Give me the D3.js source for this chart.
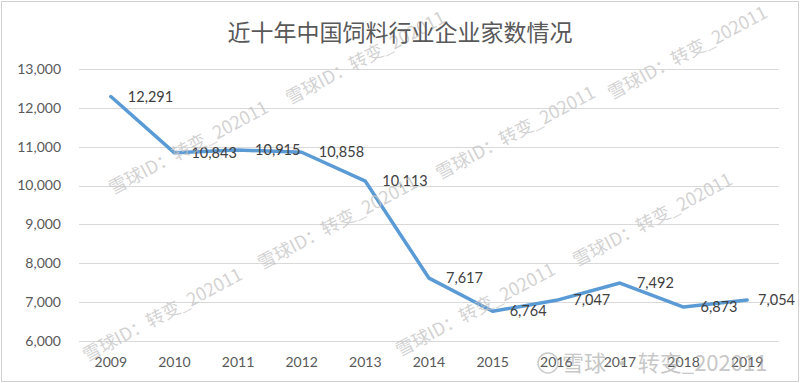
<!DOCTYPE html>
<html>
<head>
<meta charset="utf-8">
<script src="https://cdn.jsdelivr.net/npm/d3@7"></script>
<style>
  body { margin: 0; background: #fff; }
  svg { display: block; }
</style>
</head>
<body>
<svg id="graph"></svg>
<script>
//data
var years = ['2009','2010','2011','2012','2013','2014','2015','2016','2017','2018','2019']
var companies = [12291, 10843, 10915, 10858, 10113, 7617, 6764, 7047, 7492, 6873, 7054]
var yTicks = [6000, 7000, 8000, 9000, 10000, 11000, 12000, 13000]
var title = '近十年中国饲料行业企业家数情况'

//watermark anchors (decoration only)
var marks = [[113,195],[262,270],[87,362],[400,357],[440,180],[612,100],[290,105],[577,267]]

var svg = d3.select('#graph')
	.attr('width', 800)
	.attr('height', 383)

var margin = {top: 69, right: 21, bottom: 42, left: 79}
var width = 800 - margin.left - margin.right
var height = 383 - margin.top - margin.bottom

//frame
svg.append('rect')
	.attr('x', 1.5).attr('y', 1.5)
	.attr('width', 797).attr('height', 380)
	.attr('fill', '#fff')
	.attr('stroke', '#d0d0d0')

//scales
var x = d3.scaleBand().domain(years).range([0, width])
var y = d3.scaleLinear().domain([6000, 13000]).range([height, 0])

var g = svg.append('g')
	.attr('transform', 'translate(' + margin.left + ',' + margin.top + ')')

//grid lines
g.selectAll('.grid')
	.data(yTicks)
	.enter()
	.append('line')
	.attr('x1', 0).attr('x2', width)
	.attr('y1', function(d) { return Math.round(y(d)) + 0.5 })
	.attr('y2', function(d) { return Math.round(y(d)) + 0.5 })
	.attr('stroke', '#d9d9d9')

//y axis labels
g.selectAll('.ytick')
	.data(yTicks)
	.enter()
	.append('text')
	.attr('x', -18)
	.attr('y', function(d) { return y(d) })
	.attr('dy', '0.35em')
	.attr('text-anchor', 'end')
	.style('font', '14px Lato, sans-serif')
	.attr('fill', '#595959')
	.text(d3.format(','))

//x axis labels
g.selectAll('.xtick')
	.data(years)
	.enter()
	.append('text')
	.attr('x', function(d) { return x(d) + x.bandwidth() / 2 })
	.attr('y', height + 21)
	.attr('dy', '0.35em')
	.attr('text-anchor', 'middle')
	.style('font', '14px Lato, sans-serif')
	.attr('fill', '#595959')
	.text(function(d) { return d })

//watermarks
svg.selectAll('.wm')
	.data(marks)
	.enter()
	.append('text')
	.attr('transform', function(d) { return 'translate(' + d[0] + ',' + d[1] + ') rotate(-28)' })
	.style('font', '18px "Noto Sans CJK SC", sans-serif')
	.attr('fill', '#c4c4c4')
	.attr('fill-opacity', 0.75)
	.text('雪球ID：转变_202011')

//line
var line = d3.line()
	.x(function(d, i) { return x(years[i]) + x.bandwidth() / 2 })
	.y(function(d) { return y(d) })

g.append('path')
	.datum(companies)
	.attr('d', line)
	.attr('fill', 'none')
	.attr('stroke', '#5b9bd5')
	.attr('stroke-width', 3.5)
	.attr('stroke-linejoin', 'round')
	.attr('stroke-linecap', 'round')

//data labels, kept inside the frame
g.selectAll('.label')
	.data(companies)
	.enter()
	.append('text')
	.attr('y', function(d) { return y(d) })
	.attr('dy', '0.35em')
	.style('font', '14.5px Lato, sans-serif')
	.attr('fill', '#404040')
	.text(d3.format(','))
	.attr('x', function(d, i) {
		var px = x(years[i]) + x.bandwidth() / 2 + 17
		var w = this.getComputedTextLength()
		return Math.min(px, 795 - margin.left - w)
	})

//title
svg.append('text')
	.attr('x', 400)
	.attr('y', 33)
	.attr('dy', '0.35em')
	.attr('text-anchor', 'middle')
	.style('font', '23px "Noto Sans CJK SC", sans-serif')
	.attr('fill', '#595959')
	.text(title)

//logo watermark bottom right
var logo = svg.append('g').attr('opacity', 0.55)
logo.append('circle')
	.attr('cx', 548).attr('cy', 363).attr('r', 10)
	.attr('fill', 'none').attr('stroke', '#a0a0a0').attr('stroke-width', 1.5)
logo.append('text')
	.attr('x', 562).attr('y', 363)
	.attr('dy', '0.35em')
	.style('font', '22px "Noto Sans CJK SC", sans-serif')
	.attr('fill', '#9a9a9a')
	.text('雪球 · 转变_202011')
</script>
</body>
</html>
